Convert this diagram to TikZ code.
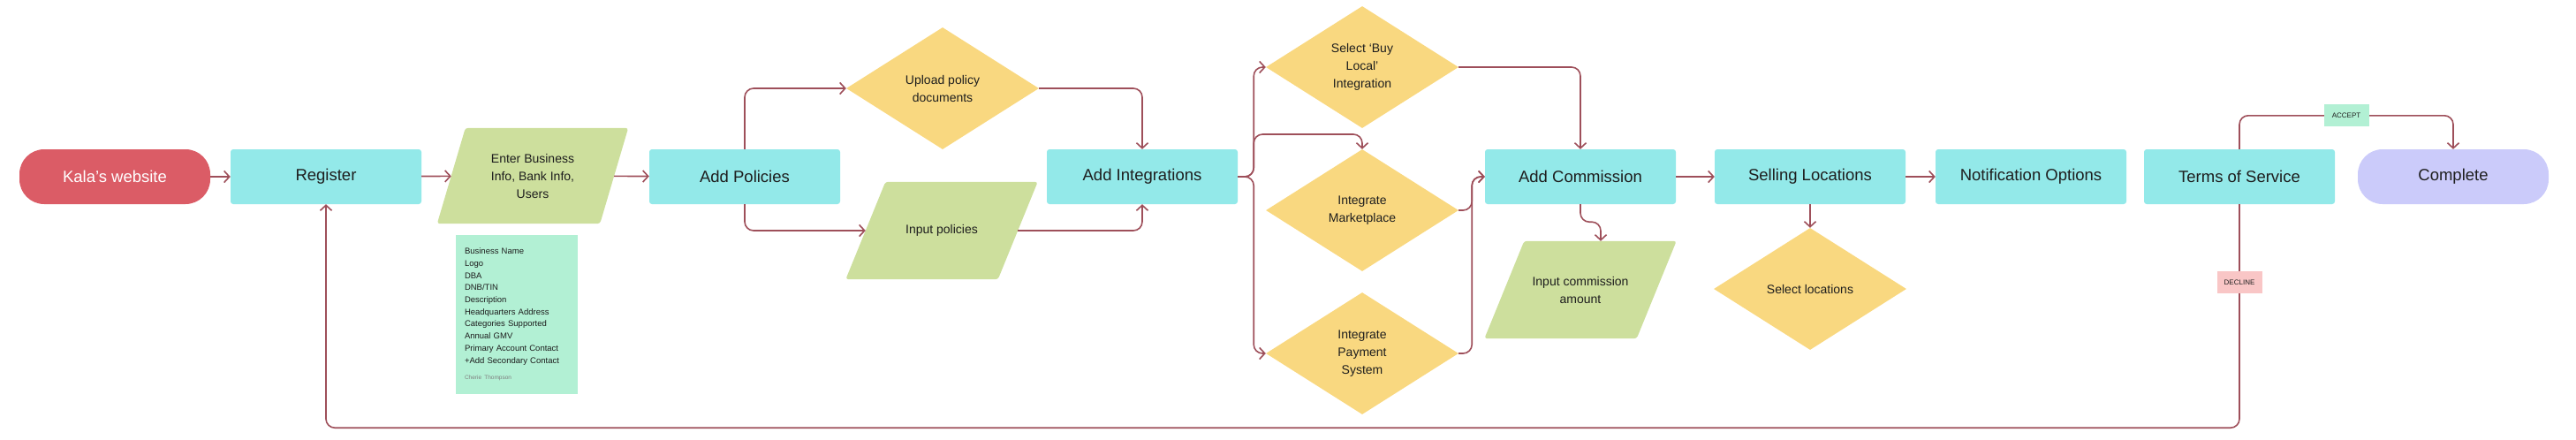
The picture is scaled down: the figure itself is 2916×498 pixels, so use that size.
\documentclass[tikz,border=0pt]{standalone}
\usepackage{fontspec}
\setmainfont{Liberation Sans}
\usetikzlibrary{calc,shapes.geometric,arrows.meta,backgrounds}
\definecolor{stepcyan}{HTML}{93E9E9}
\definecolor{startred}{HTML}{DB5C66}
\definecolor{endlilac}{HTML}{CBCBFA}
\definecolor{choiceyellow}{HTML}{F9D880}
\definecolor{inputgreen}{HTML}{CDDF9D}
\definecolor{notemint}{HTML}{B2F0D4}
\definecolor{declinepink}{HTML}{F9C6C6}
\definecolor{flowred}{HTML}{9E4F5A}
\definecolor{inkdark}{HTML}{1E1E1E}
\tikzset{
  stepbox/.style={rectangle, fill=stepcyan, rounded corners=3pt, minimum width=216pt,
    minimum height=62pt, inner sep=0pt, text=inkdark, font=\fontsize{18.5}{22}\selectfont},
  terminal/.style={stepbox, rounded corners=28pt},
  choice/.style={diamond, aspect=1.58, fill=choiceyellow, minimum width=218pt,
    minimum height=138pt, inner sep=0pt, align=center, text=inkdark,
    font=\fontsize{14}{20}\selectfont},
  % the box between the middles of the slanted sides; its green is filled below
  datain/.style={rectangle, minimum width=172pt, minimum height=110pt,
    inner sep=0pt, align=center, text=inkdark, font=\fontsize{14}{20}\selectfont},
  flow/.style={draw=flowred, line width=1.6pt, rounded corners=10pt,
    -{Straight Barb[length=6pt,width=13pt]}},
  tag/.style={rectangle, sharp corners, inner sep=0pt, minimum width=51pt,
    minimum height=25pt, text=inkdark, font=\fontsize{8}{8}\selectfont},
}
\begin{document}
\begin{tikzpicture}[x=1pt, y=-1pt]
    \useasboundingbox (0,0) rectangle (2916,498);
    % set nodes
    \node [terminal, fill=startred, text=white] (kala) at (130,200) {Kala’s website};
    \node [stepbox] (reg) at (369,200) {Register};
    \node [datain, minimum width=184pt, minimum height=108pt] (enter) at (603,199)
      {Enter Business\\Info, Bank Info,\\Users};
    \node [fill=notemint, text width=118pt, inner xsep=10pt, minimum height=180pt, align=left,
      text=inkdark, font=\fontsize{9.5}{13.7}\selectfont] (note) at (585,356)
      {Business Name\\Logo\\DBA\\DNB/TIN\\Description\\Headquarters Address\\Categories Supported\\
       Annual GMV\\Primary Account Contact\\+Add Secondary Contact\\[5pt]
       {\color{gray}\fontsize{6.5}{8}\selectfont Cherie Thompson}};
    \node [stepbox] (pol) at (843,200) {Add Policies};
    \node [choice] (upload) at (1067,100) {Upload policy\\documents};
    \node [datain] (inpol) at (1066,261) {Input policies};
    \node [stepbox] (integ) at (1293,200) {Add Integrations};
    \node [choice] (buy) at (1542,76) {Select ‘Buy\\Local’\\Integration};
    \node [choice] (market) at (1542,238) {Integrate\\Marketplace};
    \node [choice] (pay) at (1542,400) {Integrate\\Payment\\System};
    \node [stepbox] (comm) at (1789,200) {Add Commission};
    \node [datain] (inamt) at (1789,328) {Input commission\\amount};
    \node [stepbox] (sell) at (2049,200) {Selling Locations};
    \node [choice] (selloc) at (2049,327) {Select locations};
    \node [stepbox] (notif) at (2299,200) {Notification Options};
    \node [stepbox] (tos) at (2535,200) {Terms of Service};
    \node [terminal, fill=endlilac] (done) at (2777,200) {Complete};
    % slanted input shapes
    \begin{scope}[on background layer]
      \foreach \n/\s in {enter/16, inpol/22.5, inamt/22.5}
        \fill [inputgreen, rounded corners=3pt] ($(\n.south west)+(-\s,0)$) -- ($(\n.north west)+(\s,0)$)
          -- ($(\n.north east)+(\s,0)$) -- ($(\n.south east)+(-\s,0)$) -- cycle;
    \end{scope}
    % draw connectors
    \draw [flow] (kala) -- (reg);
    \draw [flow] (reg) -- (enter);
    \draw [flow] (enter) -- (pol);
    \draw [flow] (pol.north) |- (upload.west);
    \draw [flow] (upload.east) -| (integ.north);
    \draw [flow] (pol.south) |- (inpol.west);
    \draw [flow] (inpol.east) -| (integ.south);
    \draw [flow] (integ.east) -- ++(18,0) |- (buy.west);
    \draw [flow] (integ.east) -- ++(18,0) -- ++(0,-48) -| (market.north);
    \draw [flow] (integ.east) -- ++(18,0) |- (pay.west);
    \draw [flow] (buy.east) -| (comm.north);
    \draw [flow] (market.east) -- ++(15,0) |- (comm.west);
    \draw [flow] (pay.east) -- ++(15,0) |- (comm.west);
    \draw [flow] (comm.south) -- ++(0,20) -| ($(inamt.north)+(23,0)$);
    \draw [flow] (comm) -- (sell);
    \draw [flow] (sell) -- (selloc);
    \draw [flow] (sell) -- (notif);
    % add labels
    \draw [flow] (tos.north) -- ++(0,-38) -| node [tag, fill=notemint, pos=0.25] {ACCEPT} (done.north);
    \draw [flow] (tos.south) -- node [tag, fill=declinepink, pos=0.35] {DECLINE} ++(0,253) -| (reg.south);
\end{tikzpicture}
\end{document}
